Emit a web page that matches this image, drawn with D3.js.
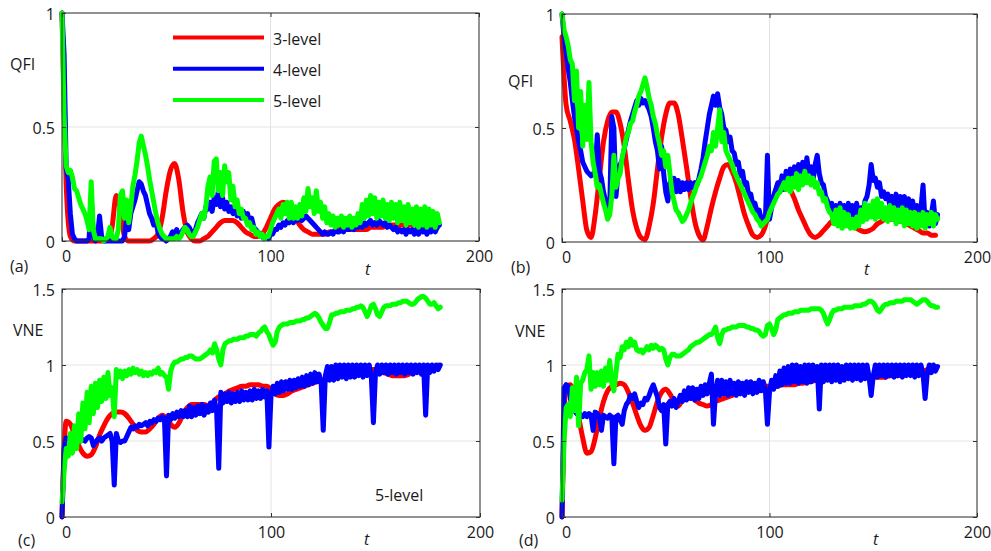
<!DOCTYPE html>
<html><head><meta charset="utf-8">
<script src="https://cdn.jsdelivr.net/npm/d3@7/dist/d3.min.js"></script>
<style>body{margin:0;background:#fff}svg{display:block;font-family:'Open Sans',sans-serif}</style>
</head><body><svg id="chart" width="991" height="551"></svg>
<script>
// ---------------- DATA ----------------
const seriesNames = ["3-level", "4-level", "5-level"];
const seriesColors = ["#ff0000", "#0000ff", "#00ff00"];
const xTicks = [0, 100, 200];
const xTickLabels = ["0", "100", "200"];
const qfiTicks = [0, 0.5, 1];
const qfiTickLabels = ["0", "0.5", "1"];
const vneTicks = [0, 0.5, 1, 1.5];
const vneTickLabels = ["0", "0.5", "1", "1.5"];
const redStep = 2;   // 3-level sampled every 2 time units from t = 0
const noisyStep = 1; // 4-level and 5-level sampled every time unit from t = 0

// (a) QFI
const qfiA_3 = [1,.25,.02,0,0,0,0,0,0,0, 0,.01,.06,.2,.14,.02,0,0,0,0, 0,0,.01,.03,.1,.22,.31,.34,.27,.13,
 .04,.01,0,0,.01,.02,.04,.06,.08,.09, .09,.09,.08,.06,.04,.03,.02,.02,.03,.06, .1,.14,.16,.17,.16,.13,.1,.07,.05,.04,
 .03,.03,.03,.03,.04,.04,.05,.05,.05,.05, .05,.05,.05,.05,.06,.06,.06,.06,.07,.07, .07,.07,.07,.07,.07,.07,.07,.07,.07,.06, .06];
const qfiA_4 = [1,.82,.32,.27,.12,.03,.01,0,0,0, 0,0,0,.01,.19,.03,0,.02,.11,.02, 0,0,0,0,0,0,0,0,0,0,
 .02,.1,.05,.12,.15,.18,.22,.26,.25,.22, .2,.16,.12,.1,.07,.09,.04,.02,.01,.01, 0,.01,.02,.04,.02,.05,.02,.03,.05,.06,
 .07,.06,.04,.03,.05,.08,.1,.12,.1,.15, .14,.17,.13,.19,.16,.22,.15,.19,.14,.17, .13,.15,.12,.14,.11,.13,.1,.13,.1,.12,
 .08,.1,.06,.05,.04,.03,.02,.01,.02,.01, .03,.03,.05,.05,.07,.06,.08,.07,.09,.08, .1,.08,.1,.09,.11,.09,.1,.11,.1,.09,
 .08,.07,.06,.05,.04,.03,.04,.03,.03,.04, .03,.05,.04,.04,.05,.04,.06,.05,.05,.06, .05,.06,.06,.07,.06,.08,.07,.08,.09,.07,
 .08,.07,.09,.08,.07,.08,.06,.07,.06,.05, .06,.04,.05,.04,.05,.03,.05,.04,.05,.03, .05,.03,.06,.04,.05,.03,.06,.04,.05,.04, .06,.07];
const qfiA_5 = [1,.55,.33,.3,.31,.28,.23,.22,.19,.16, .14,.12,.09,.05,.26,.05,.01,.01,.01,.01, 0,.01,.02,.06,.02,.01,.01,.05,.2,.22,
 .1,.18,.08,.15,.24,.29,.35,.43,.46,.42, .38,.33,.27,.22,.17,.12,.08,.05,.03,.02, .01,.01,.01,.01,.01,.02,.01,.02,.04,.06,
 .05,.03,.02,.02,.04,.06,.09,.12,.1,.15, .24,.28,.2,.35,.36,.22,.3,.2,.33,.26, .3,.18,.24,.15,.18,.12,.14,.1,.1,.07,
 .08,.05,.06,.03,.04,.02,.03,.01,.02,.02, .05,.08,.1,.12,.14,.1,.16,.12,.17,.1, .17,.1,.15,.1,.16,.11,.19,.13,.23,.15,
 .19,.12,.22,.13,.17,.1,.15,.08,.12,.07, .11,.06,.1,.07,.11,.06,.1,.07,.11,.06, .1,.07,.12,.08,.16,.1,.18,.11,.2,.12,
 .19,.1,.17,.11,.18,.1,.16,.09,.17,.1, .16,.08,.17,.09,.15,.07,.16,.08,.14,.07, .15,.06,.14,.07,.15,.06,.14,.07,.13,.06, .12,.08];

// (b) QFI
const qfiB_3 = [.9,.6,.53,.45,.32,.18,.05,.02,.12,.28, .44,.53,.57,.57,.52,.42,.27,.14,.06,.02, .01,.07,.17,.32,.46,.56,.61,.61,.56,.45,
 .33,.2,.09,.03,.01,.07,.15,.22,.28,.33, .34,.31,.26,.19,.12,.07,.03,.02,.03,.07, .14,.2,.25,.27,.26,.23,.19,.14,.1,.06,
 .03,.02,.03,.05,.07,.09,.1,.1,.09,.08, .07,.06,.05,.045,.05,.06,.08,.09,.1,.1, .1,.09,.09,.08,.07,.06,.05,.04,.04,.03, .03];
const qfiB_4 = [1,.9,.83,.76,.7,.62,.55,.5,.44,.4, .35,.33,.31,.3,.29,.3,.31,.47,.31,.28, .22,.18,.16,.15,.55,.5,.2,.3,.34,.36,
 .41,.45,.49,.53,.56,.59,.62,.6,.63,.61, .62,.6,.58,.55,.5,.44,.4,.32,.42,.3, .22,.18,.26,.21,.28,.22,.27,.22,.26,.23,
 .26,.23,.26,.24,.26,.25,.28,.32,.37,.44, .5,.56,.6,.64,.6,.65,.59,.56,.5,.49, .44,.46,.4,.39,.34,.35,.29,.31,.25,.26,
 .2,.21,.16,.17,.13,.14,.1,.11,.09,.38, .1,.15,.2,.23,.26,.22,.29,.23,.31,.24, .32,.25,.33,.26,.34,.27,.35,.28,.37,.29,
 .33,.27,.34,.38,.3,.26,.25,.2,.18,.15, .17,.1,.16,.09,.17,.1,.16,.09,.17,.1, .16,.09,.17,.1,.15,.12,.18,.2,.25,.34,
 .27,.28,.24,.26,.2,.22,.19,.21,.16,.2, .12,.21,.13,.2,.11,.2,.12,.19,.1,.18, .1,.16,.09,.15,.25,.08,.13,.07,.12,.18, .08,.12];
const qfiB_5 = [1,.93,.9,.86,.8,.78,.62,.75,.5,.66, .42,.6,.45,.7,.44,.35,.3,.24,.25,.21, .17,.14,.1,.12,.2,.38,.24,.28,.3,.37,
 .41,.46,.48,.52,.53,.57,.6,.64,.66,.69, .72,.68,.63,.6,.55,.52,.47,.43,.38,.4, .33,.38,.3,.22,.18,.14,.13,.11,.09,.1,
 .12,.14,.17,.2,.22,.25,.27,.29,.32,.35, .38,.42,.4,.48,.42,.5,.58,.44,.48,.4, .38,.36,.34,.31,.29,.27,.25,.23,.21,.19,
 .17,.15,.13,.12,.1,.09,.07,.08,.09,.1, .13,.15,.17,.19,.21,.22,.24,.26,.23,.28, .22,.28,.24,.3,.23,.29,.25,.31,.26,.29,
 .25,.28,.24,.26,.21,.22,.18,.19,.15,.13, .12,.08,.14,.07,.15,.06,.13,.07,.12,.06, .1,.06,.11,.07,.14,.09,.17,.1,.16,.11,
 .18,.1,.19,.11,.17,.1,.15,.09,.16,.1, .15,.08,.14,.09,.15,.07,.14,.08,.13,.07, .13,.06,.12,.07,.13,.06,.12,.08,.13,.07, .12,.1];

// (c) VNE
const vneC_3 = [0,.63,.61,.54,.47,.42,.4,.41,.46,.54, .6,.65,.68,.69,.69,.68,.65,.61,.57,.56, .56,.58,.61,.65,.67,.65,.61,.59,.62,.68,
 .72,.74,.74,.74,.74,.73,.75,.78,.8,.81, .83,.84,.85,.86,.86,.87,.87,.87,.86,.86, .84,.81,.8,.8,.81,.83,.84,.85,.86,.87,
 .88,.89,.9,.91,.92,.93,.94,.95,.95,.96, .96,.97,.97,.97,.97,.97,.96,.95,.94,.93, .93,.93,.93,.94,.95,.96,.97,.98,.99,.99, 1];
const vneC_4 = [0,.45,.52,.5,.5,.49,.5,.5,.5,.5, .51,.5,.52,.53,.52,.47,.49,.51,.52,.5, .52,.53,.54,.55,.5,.21,.55,.5,.49,.5,
 .5,.53,.56,.59,.58,.6,.59,.61,.6,.61, .62,.6,.63,.62,.64,.63,.65,.64,.66,.65, .27,.67,.64,.68,.65,.69,.66,.7,.66,.7,
 .66,.73,.66,.72,.67,.73,.68,.74,.67,.73, .69,.75,.7,.77,.69,.32,.82,.75,.81,.76, .82,.75,.81,.76,.82,.76,.83,.77,.82,.77,
 .83,.77,.84,.78,.83,.78,.84,.79,.83,.46, .8,.86,.81,.88,.82,.89,.83,.89,.84,.9, .84,.9,.85,.91,.86,.92,.86,.93,.87,.94,
 .88,.95,.89,.94,.88,.57,.93,.99,.9,.99, .9,1,.91,1,.92,1,.91,1,.92,1, .92,1,.93,1,.92,1,.93,1,.92,.62,
 .95,1,.94,1,.95,1,.94,1,.95,1, .94,1,.95,1,.94,1,.95,1,.94,1, .95,1,.94,1,.67,1,.95,1,.96,1, .97,1];
const vneC_5 = [.1,.3,.45,.4,.55,.42,.6,.45,.68,.5, .75,.58,.82,.62,.86,.68,.88,.72,.9,.76, .92,.78,.95,.8,.85,.66,.97,.92,.96,.91,
 .96,.93,.97,.94,.98,.95,.97,.94,.96,.93, .95,.93,.95,.94,.96,.95,.98,.94,.95,.93, .92,.84,.96,1,1.02,1.02,1.03,1.04,1.04,1.05,
 1.05,1.06,1.06,1.05,1.04,1.04,1.04,1.05,1.06,1.07, 1.08,1.1,1.08,1.14,1.1,1.04,1.0,1.1,1.14,1.15, 1.16,1.16,1.17,1.17,1.17,1.18,1.18,1.18,1.19,1.19,
 1.2,1.2,1.2,1.19,1.21,1.22,1.24,1.25,1.22,1.2, 1.16,1.13,1.15,1.22,1.25,1.26,1.27,1.27,1.27,1.28, 1.28,1.28,1.29,1.29,1.29,1.3,1.3,1.31,1.31,1.32,
 1.33,1.34,1.33,1.31,1.28,1.26,1.24,1.24,1.28,1.33, 1.33,1.34,1.34,1.35,1.35,1.35,1.36,1.36,1.36,1.37, 1.37,1.38,1.38,1.39,1.38,1.35,1.32,1.35,1.39,1.4,
 1.37,1.33,1.32,1.35,1.38,1.39,1.39,1.39,1.4,1.4, 1.4,1.41,1.41,1.42,1.42,1.42,1.41,1.4,1.4,1.41, 1.43,1.44,1.45,1.45,1.44,1.42,1.4,1.4,1.41,1.39, 1.37,1.38];

// (d) VNE
const vneD_3 = [0,.86,.87,.79,.66,.52,.42,.43,.52,.65, .76,.83,.86,.87,.88,.87,.82,.75,.67,.6, .57,.59,.67,.76,.82,.84,.81,.76,.73,.77,
 .8,.79,.77,.75,.74,.73,.74,.76,.77,.78, .79,.8,.81,.82,.82,.83,.84,.85,.86,.86, .86,.86,.86,.87,.87,.87,.87,.88,.88,.89,
 .89,.9,.9,.9,.91,.91,.91,.92,.92,.92, .92,.92,.92,.92,.92,.92,.92,.92,.92,.93, .93,.93,.94,.94,.95,.95,.96,.96,.97,.98, .99];
const vneD_4 = [0,.85,.87,.86,.78,.72,.7,.68,.69,.67, .66,.68,.66,.68,.67,.57,.69,.68,.66,.57, .67,.66,.65,.67,.66,.35,.66,.67,.64,.61,
 .7,.74,.76,.8,.78,.81,.76,.72,.75,.74, .78,.77,.8,.84,.87,.83,.79,.72,.7,.74, .48,.74,.76,.73,.78,.72,.76,.8,.76,.83,
 .77,.85,.78,.85,.77,.84,.78,.86,.8,.87, .81,.88,.94,.61,.82,.9,.8,.9,.81,.89, .8,.9,.81,.88,.8,.89,.81,.88,.8,.89,
 .82,.89,.81,.88,.82,.9,.83,.89,.84,.61, .82,.9,.84,.93,.86,.96,.87,.98,.88,.99, .88,1,.89,1,.88,.99,.89,1,.88,1,
 .89,1,.9,.99,.71,1,.89,1,.9,1, .89,1,.9,1,.89,.99,.9,1,.91,1, .9,1,.91,1,.9,1,.91,1,.92,.8,
 .93,1,.92,1,.93,1,.92,1,.93,1, .92,1,.93,1,.92,1,.93,1,.93,1, .92,1,.93,1,.94,.78,.94,1,.95,1, .96,.99];
const vneD_5 = [.11,.5,.72,.74,.66,.85,.7,.92,.6,.88, .9,.95,.97,1.06,.84,.95,.86,.95,.87,.96, .86,.98,.9,1.03,.88,.83,.95,1.07,1.05,1.12,
 1.1,1.15,1.12,1.17,1.13,1.15,1.1,1.09,1.1,1.08, 1.1,1.12,1.1,1.13,1.11,1.13,1.12,1.1,1.11,1.1, 1.04,1.0,1.05,1.07,1.07,1.06,1.06,1.06,1.07,1.08,
 1.09,1.1,1.12,1.13,1.14,1.15,1.15,1.16,1.17,1.18, 1.19,1.2,1.2,1.22,1.25,1.18,1.14,1.2,1.23,1.23, 1.24,1.24,1.25,1.25,1.25,1.26,1.26,1.26,1.26,1.25,
 1.25,1.24,1.24,1.23,1.23,1.22,1.2,1.19,1.2,1.26, 1.27,1.24,1.2,1.23,1.3,1.31,1.32,1.33,1.33,1.34, 1.34,1.34,1.35,1.35,1.35,1.36,1.36,1.36,1.36,1.36,
 1.37,1.37,1.37,1.37,1.37,1.36,1.34,1.3,1.27,1.3, 1.34,1.36,1.36,1.37,1.37,1.37,1.38,1.38,1.38,1.38, 1.38,1.39,1.39,1.39,1.39,1.4,1.4,1.41,1.42,1.42,
 1.41,1.39,1.36,1.35,1.37,1.39,1.4,1.4,1.41,1.41, 1.41,1.42,1.42,1.42,1.42,1.43,1.43,1.43,1.43,1.42, 1.41,1.4,1.41,1.42,1.43,1.43,1.42,1.4,1.39,1.39, 1.38,1.38];

// ---------------- LAYOUT ----------------
const panels = [
  {box:[62,13,417,228], yDomain:[0,1], yTicks:qfiTicks, yTickLabels:qfiTickLabels, data:[qfiA_3,qfiA_4,qfiA_5],
   yLabel:"QFI", yLabelPos:[10,70], tag:"(a)", tagPos:[10,272], tPos:[365,275], legend:true},
  {box:[562,14,415,228], yDomain:[0,1], yTicks:qfiTicks, yTickLabels:qfiTickLabels, data:[qfiB_3,qfiB_4,qfiB_5],
   yLabel:"QFI", yLabelPos:[508,87], tag:"(b)", tagPos:[511,273], tPos:[864,275]},
  {box:[62,289,418,228], yDomain:[0,1.5], yTicks:vneTicks, yTickLabels:vneTickLabels, data:[vneC_3,vneC_4,vneC_5],
   yLabel:"VNE", yLabelPos:[13,336], tag:"(c)", tagPos:[18,546], tPos:[364,545], note:"5-level", notePos:[375,501]},
  {box:[562,289,415,228], yDomain:[0,1.5], yTicks:vneTicks, yTickLabels:vneTickLabels, data:[vneD_3,vneD_4,vneD_5],
   yLabel:"VNE", yLabelPos:[515,337], tag:"(d)", tagPos:[519,546], tPos:[873,545]}
];

const svg = d3.select("#chart");
const FS = 16, axisColor = "#333", textColor = "#1a1a1a", gridColor = "#e3e3e3";

panels.forEach(p => {
  const [L, T, W, H] = p.box;
  const x = d3.scaleLinear().domain([0, 200]).range([L, L + W]);
  const y = d3.scaleLinear().domain(p.yDomain).range([T + H, T]);
  const g = svg.append("g");

  // grid
  g.selectAll(".gx").data(xTicks).join("line")
    .attr("x1", d => x(d)).attr("x2", d => x(d)).attr("y1", T).attr("y2", T + H)
    .attr("stroke", gridColor).attr("stroke-width", 1);
  g.selectAll(".gy").data(p.yTicks).join("line")
    .attr("x1", L).attr("x2", L + W).attr("y1", d => y(d)).attr("y2", d => y(d))
    .attr("stroke", gridColor).attr("stroke-width", 1);

  // series
  p.data.forEach((arr, k) => {
    const step = k === 0 ? redStep : noisyStep;
    const line = d3.line().x((d, i) => x(i * step)).y(d => y(d))
      .curve(k === 0 ? d3.curveMonotoneX : d3.curveLinear);
    g.append("path").attr("d", line(arr)).attr("fill", "none")
      .attr("stroke", seriesColors[k]).attr("stroke-width", 5)
      .attr("stroke-linejoin", "round").attr("stroke-linecap", "round");
  });

  // axes
  const xa = d3.axisBottom(x).tickValues(xTicks).tickFormat((d, i) => xTickLabels[i])
    .tickSize(-4).tickSizeOuter(0).tickPadding(10);
  const gx = g.append("g").attr("transform", `translate(0,${T + H})`).call(xa);
  const ya = d3.axisLeft(y).tickValues(p.yTicks).tickFormat((d, i) => p.yTickLabels[i])
    .tickSize(-4).tickSizeOuter(0).tickPadding(7);
  const gy = g.append("g").attr("transform", `translate(${L},0)`).call(ya);
  const xt = d3.axisTop(x).tickValues(xTicks).tickFormat("").tickSize(-4).tickSizeOuter(0);
  const gxt = g.append("g").attr("transform", `translate(0,${T})`).call(xt);
  const yr = d3.axisRight(y).tickValues(p.yTicks).tickFormat("").tickSize(-4).tickSizeOuter(0);
  const gyr = g.append("g").attr("transform", `translate(${L + W},0)`).call(yr);
  [gx, gy, gxt, gyr].forEach(a => {
    a.select(".domain").remove();
    a.selectAll("line").attr("stroke", axisColor);
    a.selectAll("text").attr("font-size", FS).attr("font-family", "'Open Sans',sans-serif").attr("fill", textColor);
  });
  gx.selectAll("text").filter(d => d === 0).attr("dx", 4);
  gy.selectAll("text").attr("dy", "0.42em");

  // box
  g.append("rect").attr("x", L).attr("y", T).attr("width", W).attr("height", H)
    .attr("fill", "none").attr("stroke", axisColor).attr("stroke-width", 1);

  // labels
  g.append("text").attr("x", p.yLabelPos[0]).attr("y", p.yLabelPos[1]).text(p.yLabel)
    .attr("font-size", FS).attr("fill", textColor);
  g.append("text").attr("x", p.tagPos[0]).attr("y", p.tagPos[1]).text(p.tag)
    .attr("font-size", FS).attr("fill", textColor);
  g.append("text").attr("x", p.tPos[0]).attr("y", p.tPos[1]).text("t")
    .attr("font-size", FS).attr("font-style", "italic").attr("fill", textColor);
  if (p.note) g.append("text").attr("x", p.notePos[0]).attr("y", p.notePos[1]).text(p.note)
    .attr("font-size", FS).attr("fill", textColor);

  if (p.legend) {
    const lg = g.append("g");
    seriesNames.forEach((n, k) => {
      const ly = 37.5 + k * 31.2;
      lg.append("line").attr("x1", 173).attr("x2", 264).attr("y1", ly).attr("y2", ly)
        .attr("stroke", seriesColors[k]).attr("stroke-width", 4);
      lg.append("text").attr("x", 273).attr("y", ly + 7.5).text(n)
        .attr("font-size", FS).attr("fill", textColor);
    });
  }
});
</script>
</body></html>
